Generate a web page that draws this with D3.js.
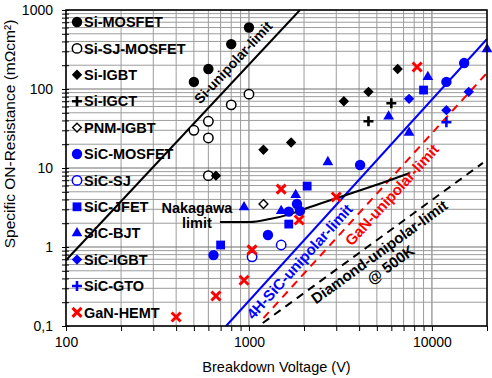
<!DOCTYPE html>
<html>
<head>
<meta charset="utf-8">
<script src="https://cdn.jsdelivr.net/npm/d3@7"></script>
<style>
  body { margin: 0; background: #fff; }
  text { font-family: "Liberation Sans", Arial, sans-serif; }
</style>
</head>
<body>
<svg id="chart" width="492" height="378"></svg>
<script>
// axis ticks
var xMajor = [100, 1000, 10000];
var xTickLabels = ["100", "1000", "10000"];
var yMajor = [0.1, 1, 10, 100, 1000];
var yTickLabels = ["0,1", "1", "10", "100", "1000"];

// devices: [breakdown voltage V, specific on-resistance mOhm cm2]
var siMosfet = [[500, 123], [600, 179], [800, 370], [1000, 600]];
var siSjMosfet = [[500, 30], [600, 39], [600, 24], [600, 8], [800, 63], [1000, 86]];
var siIgbt = [[660, 8], [1200, 17], [1700, 21], [3300, 70], [4500, 92], [6500, 179]];
var siIgct = [[4500, 39], [6000, 66]];
var pnmIgbt = [[1200, 3.5]];
var sicMosfet = [[640, 0.79], [1270, 1.42], [1650, 2.8], [1830, 3.5], [1900, 2.86], [4050, 10.9], [12000, 123], [15000, 213]];
var sicSj = [[1040, 0.75], [1500, 1.06]];
var sicJfet = [[700, 1.06], [1650, 1.95], [2080, 5.9], [9000, 97]];
var sicBjt = [[940, 3.2], [1500, 2.86], [1800, 4.55], [2700, 11.9], [5800, 45], [7500, 28], [9500, 142], [20000, 320]];
var sicIgbt = [[7500, 75], [12000, 54], [15900, 92]];
var sicGto = [[12000, 38]];
var ganHemt = [[400, 0.13], [660, 0.24], [940, 0.38], [1040, 0.92], [1500, 5.4], [1880, 2.2], [3000, 4.3], [8300, 190]];

// limit lines
var siLimit = [[100, 0.68], [1900, 1000]];
var sicLimit = [[750, 0.1], [20000, 430]];
var ganLimit = [[1200, 0.126], [20000, 160]];
var diamondLimit = [[1190, 0.109], [19000, 11.6]];
var nakagawa = [[694, 2.07], [1010, 2.07], [1300, 2.26], [1680, 2.61], [2080, 3.12], [3030, 4.17], [4590, 5.74], [7590, 8.65]];

var categories = ["Si-MOSFET", "Si-SJ-MOSFET", "Si-IGBT", "Si-IGCT", "PNM-IGBT", "SiC-MOSFET",
  "SiC-SJ", "SiC-JFET", "SiC-BJT", "SiC-IGBT", "SiC-GTO", "GaN-HEMT"];

var BLUE = "#0000ff", RED = "#ff0000", BLACK = "#000";
var series = [
  { data: siMosfet, shape: "circle", color: BLACK, open: false },
  { data: siSjMosfet, shape: "circle", color: BLACK, open: true },
  { data: siIgbt, shape: "diamond", color: BLACK, open: false },
  { data: siIgct, shape: "plus", color: BLACK },
  { data: pnmIgbt, shape: "diamond", color: BLACK, open: true },
  { data: sicMosfet, shape: "circle", color: BLUE, open: false },
  { data: sicSj, shape: "circle", color: BLUE, open: true },
  { data: sicJfet, shape: "square", color: BLUE },
  { data: sicBjt, shape: "triangle", color: BLUE },
  { data: sicIgbt, shape: "diamond", color: BLUE, open: false },
  { data: sicGto, shape: "plus", color: BLUE },
  { data: ganHemt, shape: "cross", color: RED }
];
series.forEach(function (s, i) { s.name = categories[i]; });

var svg = d3.select("#chart");
var mLeft = 66, mRight = 487, mTop = 10, mBottom = 326;

var x = d3.scaleLog().domain([100, 20000]).range([mLeft, mRight]);
var y = d3.scaleLog().domain([0.1, 1000]).range([mBottom, mTop]);

function isMajor(v) {
  var l = Math.log10(v);
  return Math.abs(l - Math.round(l)) < 1e-6;
}

// grid
var grid = svg.append("g");
grid.selectAll("line.gx").data(x.ticks()).enter().append("line")
  .attr("x1", function (d) { return x(d); }).attr("x2", function (d) { return x(d); })
  .attr("y1", mTop).attr("y2", mBottom)
  .attr("stroke", function (d) { return isMajor(d) ? "#707070" : "#9c9c9c"; })
  .attr("stroke-width", 1);
grid.selectAll("line.gy").data(y.ticks()).enter().append("line")
  .attr("x1", mLeft).attr("x2", mRight)
  .attr("y1", function (d) { return y(d); }).attr("y2", function (d) { return y(d); })
  .attr("stroke", function (d) { return isMajor(d) ? "#707070" : "#9c9c9c"; })
  .attr("stroke-width", 1);

// axes
var xAxis = svg.append("g").attr("transform", "translate(0," + mBottom + ")")
  .call(d3.axisBottom(x).tickValues(x.ticks()).tickSize(5).tickPadding(6)
    .tickFormat(function (d) {
      var i = xMajor.findIndex(function (m) { return Math.abs(m - d) < 1e-6; });
      return i >= 0 ? xTickLabels[i] : "";
    }));
var yAxis = svg.append("g").attr("transform", "translate(" + mLeft + ",0)")
  .call(d3.axisLeft(y).tickValues(y.ticks()).tickSize(4).tickPadding(9)
    .tickFormat(function (d) {
      var i = yMajor.findIndex(function (m) { return Math.abs(m - d) / m < 1e-6; });
      return i >= 0 ? yTickLabels[i] : "";
    }));
[xAxis, yAxis].forEach(function (a) {
  a.select(".domain").remove();
  a.selectAll("line").attr("stroke", "#000");
  a.selectAll("text").attr("font-size", 14).attr("fill", "#000")
    .style("font-family", "'Liberation Sans', Arial, sans-serif");
});
yAxis.selectAll(".tick line").attr("x1", 3);

// limit lines
var line = d3.line().x(function (d) { return x(d[0]); }).y(function (d) { return y(d[1]); });
var lines = svg.append("g").attr("fill", "none").attr("stroke-width", 2);
lines.append("path").datum(siLimit).attr("d", line).attr("stroke", BLACK);
lines.append("path").datum(sicLimit).attr("d", line).attr("stroke", BLUE);
lines.append("path").datum(ganLimit).attr("d", line).attr("stroke", RED).attr("stroke-dasharray", "8,6");
lines.append("path").datum(diamondLimit).attr("d", line).attr("stroke", BLACK).attr("stroke-dasharray", "8,6");
lines.append("path").datum(nakagawa).attr("d", line.curve(d3.curveMonotoneX)).attr("stroke", BLACK);

// markers
function drawMarker(g, s) {
  if (s.shape === "circle") {
    g.append("circle").attr("r", s.open ? 4.7 : 5.2)
      .attr("fill", s.open ? "#fff" : s.color)
      .attr("stroke", s.color).attr("stroke-width", s.open ? 1.5 : 0);
  } else if (s.shape === "diamond") {
    var r = s.open ? 4.4 : 5.2;
    g.append("path").attr("d", "M0," + (-r) + "L" + r + ",0L0," + r + "L" + (-r) + ",0Z")
      .attr("fill", s.open ? "#fff" : s.color)
      .attr("stroke", s.color).attr("stroke-width", s.open ? 1.4 : 0);
  } else if (s.shape === "square") {
    g.append("rect").attr("x", -4.4).attr("y", -4.4).attr("width", 8.8).attr("height", 8.8)
      .attr("fill", s.color);
  } else if (s.shape === "triangle") {
    g.append("path").attr("d", d3.symbol(d3.symbolTriangle, 50)()).attr("fill", s.color);
  } else if (s.shape === "plus") {
    g.append("path").attr("d", "M-5,0H5M0,-5V5").attr("stroke", s.color).attr("stroke-width", 2.6);
  } else if (s.shape === "cross") {
    g.append("path").attr("d", "M-4.5,-4.5L4.5,4.5M-4.5,4.5L4.5,-4.5")
      .attr("stroke", s.color).attr("stroke-width", 3);
  }
}

var marks = svg.append("g");
series.forEach(function (s) {
  marks.selectAll(null).data(s.data).enter().append("g")
    .attr("transform", function (d) { return "translate(" + x(d[0]) + "," + y(d[1]) + ")"; })
    .each(function () { drawMarker(d3.select(this), s); });
});

// legend
var legend = svg.append("g");
series.forEach(function (s, i) {
  var row = legend.append("g").attr("transform", "translate(77," + (22 + i * 26.4) + ")");
  drawMarker(row, s);
  row.append("text").attr("x", 7).attr("dy", "0.36em")
    .attr("font-size", 14.5).attr("font-weight", "bold").text(s.name);
});

// line labels
function lineLabel(pts, t, off, txt, color, size) {
  var a = [x(pts[0][0]), y(pts[0][1])], b = [x(pts[1][0]), y(pts[1][1])];
  var dx = b[0] - a[0], dy = b[1] - a[1], len = Math.hypot(dx, dy);
  var ux = dx / len, uy = dy / len;
  var px = a[0] + dx * t + uy * off, py = a[1] + dy * t - ux * off;
  var ang = Math.atan2(dy, dx) * 180 / Math.PI;
  svg.append("text")
    .attr("transform", "translate(" + px + "," + py + ") rotate(" + ang + ")")
    .attr("text-anchor", "middle").attr("dy", "0.35em")
    .attr("font-size", size).attr("font-weight", "bold").attr("fill", color)
    .text(txt);
}
lineLabel(siLimit, 0.755, 13, "Si-unipolar-limit", BLACK, 14);
lineLabel(sicLimit, 0.25, -11, "4H-SiC-unipolar-limit", BLUE, 15);
lineLabel(ganLimit, 0.535, -12, "GaN-unipolar-limit", RED, 15);
lineLabel(diamondLimit, 0.5, -11, "Diamond-unipolar-limit", BLACK, 15);
lineLabel(diamondLimit, 0.506, -28, "@ 500K", BLACK, 15);

var nk = [x(nakagawa[0][0]), y(nakagawa[0][1])];
svg.append("text").attr("x", nk[0] - 23).attr("y", nk[1] - 9)
  .attr("text-anchor", "middle").attr("font-size", 14.5).attr("font-weight", "bold").text("Nakagawa");
svg.append("text").attr("x", nk[0] - 23).attr("y", nk[1] + 6)
  .attr("text-anchor", "middle").attr("font-size", 14.5).attr("font-weight", "bold").text("limit");

// border
svg.append("rect").attr("x", mLeft).attr("y", mTop).attr("width", mRight - mLeft).attr("height", mBottom - mTop)
  .attr("fill", "none").attr("stroke", "#000").attr("stroke-width", 1.5);

// axis titles
svg.append("text").attr("x", (mLeft + mRight) / 2).attr("y", 372)
  .attr("text-anchor", "middle").attr("font-size", 14.5).text("Breakdown Voltage (V)");
svg.append("text").attr("transform", "translate(15,134) rotate(-90)")
  .attr("text-anchor", "middle").attr("font-size", 15.5).text("Specific ON-Resistance (mΩcm²)");
</script>
</body>
</html>
